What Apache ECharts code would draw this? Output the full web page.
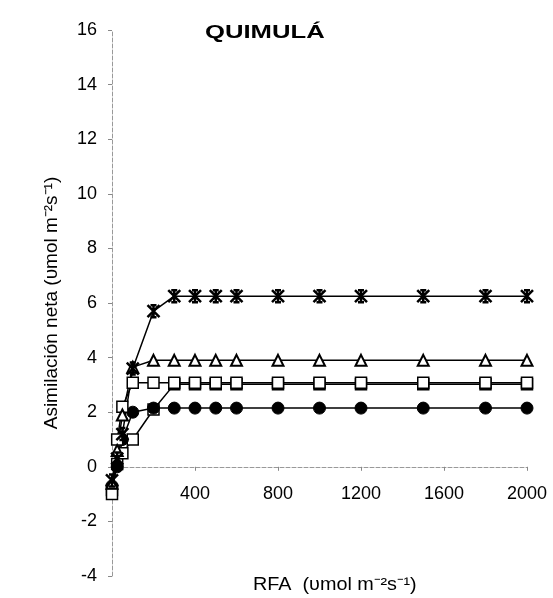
<!DOCTYPE html>
<html lang="es">
<head>
    <meta charset="UTF-8">
    <title>QUIMULÁ</title>
    <script src="https://cdn.jsdelivr.net/npm/echarts@6/dist/echarts.min.js"></script>
    <style>
        html, body { margin: 0; padding: 0; background: #fff; }
        #main { width: 553px; height: 598px; }
    </style>
</head>
<body>
<div id="main"></div>
<script>
    // RFA (PAR) levels
    var par = [0, 25, 50, 100, 200, 300, 400, 500, 600, 800, 1000, 1200, 1500, 1800, 2000];

    // net assimilation for each curve
    var starVals = [-0.5, 0.3, 1.2, 3.6, 5.7, 6.25, 6.25, 6.25, 6.25, 6.25, 6.25, 6.25, 6.25, 6.25, 6.25];
    var triVals = [-0.6, 0.6, 1.9, 3.65, 3.9, 3.9, 3.9, 3.9, 3.9, 3.9, 3.9, 3.9, 3.9, 3.9, 3.9];
    var sqVals = [-1.0, 1.0, 2.2, 3.08, 3.08, 3.08, 3.08, 3.08, 3.08, 3.08, 3.08, 3.08, 3.08, 3.08, 3.08];
    var sq2Vals = [-0.85, 0.1, 0.5, 1.0, 2.1, 3.02, 3.02, 3.02, 3.02, 3.02, 3.02, 3.02, 3.02, 3.02, 3.02];
    var circVals = [-0.7, 0.0, 1.0, 2.0, 2.15, 2.15, 2.15, 2.15, 2.15, 2.15, 2.15, 2.15, 2.15, 2.15, 2.15];

    var xTicks = [400, 800, 1200, 1600, 2000];

    function pairs(vals) {
        return par.map(function (p, i) { return [p, vals[i]]; });
    }

    var starPath = 'path://M0,0L10,10M10,0L0,10M5,0L5,10M2.5,0L7.5,0M2.5,10L7.5,10';

    var myChart = echarts.init(document.getElementById('main'));

    var font = 'Liberation Sans, Arial, sans-serif';

    // grid geometry; x axis sits on y = 0
    var gTop = 30, gH = 546, yMin = -4, yMax = 16;
    var zeroShift = gH * (0 - yMin) / (yMax - yMin);

    var option = {
        animation: false,
        grid: { left: 112, top: gTop, width: 415, height: gH, outerBoundsMode: 'none', containLabel: false },
        xAxis: {
            type: 'value',
            min: 0,
            max: 2000,
            interval: 400,
            position: 'bottom',
            offset: -zeroShift,
            axisLine: { onZero: false, lineStyle: { color: '#999', type: 'dashed', width: 1 } },
            axisTick: { show: true, length: 4, lineStyle: { color: '#888' } },
            splitLine: { show: false },
            axisLabel: {
                showMinLabel: false,
                margin: 18,
                color: '#000',
                fontFamily: font,
                fontSize: 18,
                formatter: function (v) { return xTicks.indexOf(v) >= 0 ? String(v) : ''; }
            }
        },
        yAxis: {
            type: 'value',
            min: yMin,
            max: yMax,
            interval: 2,
            name: 'Asimilación neta (υmol m⁻²s⁻¹)',
            nameLocation: 'middle',
            nameGap: 51,
            nameTextStyle: { fontFamily: font, fontSize: 19, color: '#000' },
            axisLine: { show: true, onZero: false, lineStyle: { color: '#999', type: 'dashed', width: 1 } },
            axisTick: { show: true, length: 4, lineStyle: { color: '#888' } },
            splitLine: { show: false },
            axisLabel: { margin: 15, color: '#000', fontFamily: font, fontSize: 18 }
        },
        graphic: [
            {
                type: 'text',
                x: 205,
                y: 23,
                scaleX: 1.35,
                style: {
                    text: 'QUIMULÁ',
                    fontFamily: font,
                    fontSize: 19,
                    fontWeight: 'bold',
                    fill: '#000'
                }
            },
            {
                type: 'text',
                x: 253,
                y: 576,
                scaleX: 1.1,
                style: {
                    text: 'RFA  (υmol m⁻²s⁻¹)',
                    fontFamily: font,
                    fontSize: 18,
                    fill: '#000'
                }
            }
        ],
        series: [
            {
                name: 'cuadro2',
                type: 'line',
                data: pairs(sq2Vals),
                symbol: 'rect',
                symbolSize: 11,
                lineStyle: { color: '#000', width: 1.5 },
                itemStyle: { color: '#fff', borderColor: '#000', borderWidth: 1.5 }
            },
            {
                name: 'circulo',
                type: 'line',
                data: pairs(circVals),
                symbol: 'circle',
                symbolSize: 12,
                lineStyle: { color: '#000', width: 1.5 },
                itemStyle: { color: '#000', borderColor: '#000', borderWidth: 1 }
            },
            {
                name: 'cuadro',
                type: 'line',
                data: pairs(sqVals),
                symbol: 'rect',
                symbolSize: 11,
                lineStyle: { color: '#000', width: 1.5 },
                itemStyle: { color: '#fff', borderColor: '#000', borderWidth: 1.5 }
            },
            {
                name: 'triangulo',
                type: 'line',
                data: pairs(triVals),
                symbol: 'triangle',
                symbolSize: 11,
                lineStyle: { color: '#000', width: 1.5 },
                itemStyle: { color: '#fff', borderColor: '#000', borderWidth: 2 }
            },
            {
                name: 'estrella',
                type: 'line',
                data: pairs(starVals),
                symbol: starPath,
                symbolSize: 12,
                lineStyle: { color: '#000', width: 1.5 },
                itemStyle: { color: '#000', borderColor: '#000', borderWidth: 2.5 }
            }
        ]
    };

    myChart.setOption(option);
</script>
</body>
</html>
